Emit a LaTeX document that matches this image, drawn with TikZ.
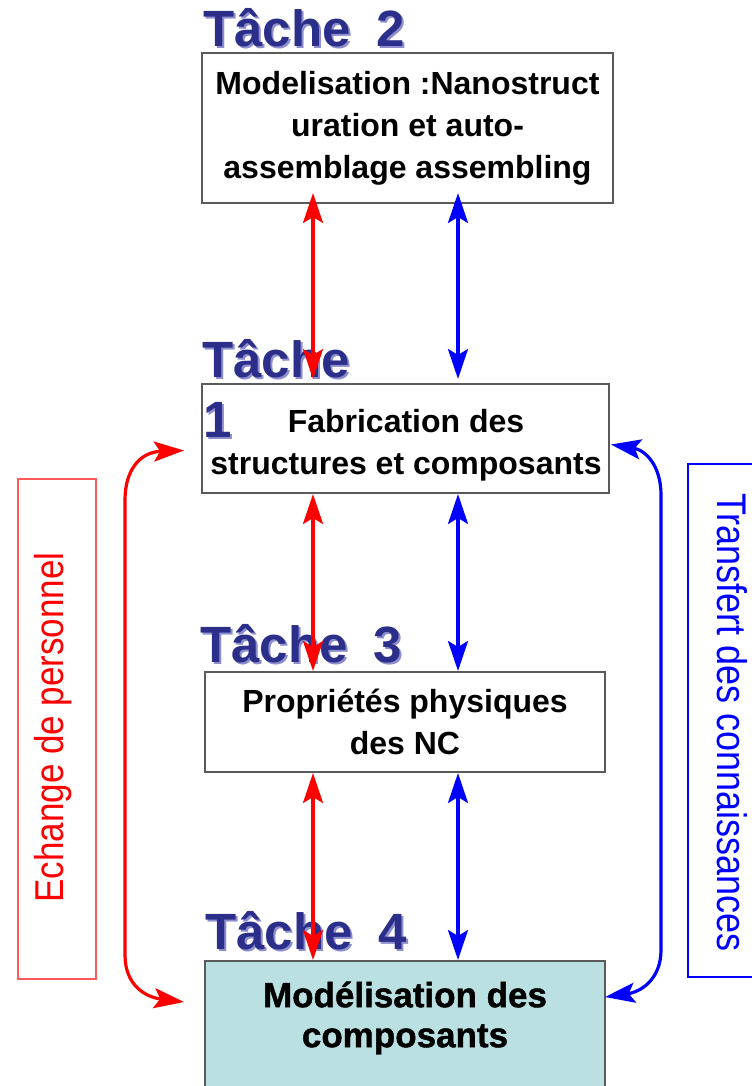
\documentclass[tikz,border=0pt]{standalone}
\usepackage{fontspec}
\setmainfont{Liberation Sans}
\newfontfamily\heavyfont[FakeBold=1.2]{Liberation Sans Bold}
\usetikzlibrary{arrows.meta}
\definecolor{tachecol}{RGB}{44,47,138}
\definecolor{tacheshade}{RGB}{140,142,205}
\definecolor{boxline}{RGB}{90,90,90}
\definecolor{boxfill}{RGB}{186,224,226}
\definecolor{echline}{RGB}{255,90,90}
\newcommand{\shadowed}[1]{\makebox[0pt][l]{\hspace{1pt}\raisebox{-1pt}{\textcolor{tacheshade}{#1}}}#1}

\begin{document}
\begin{tikzpicture}[x=0.5pt, y=-0.5pt,
  tache/.style={anchor=base west, inner sep=0pt, text=tachecol,
    font=\fontsize{25.5}{30}\selectfont\bfseries},
  taskbox/.style={draw=boxline, line width=1pt, fill=white, align=center, inner sep=0pt,
    font=\fontsize{16}{21}\selectfont\bfseries},
  tasktext/.style={align=center, inner sep=0pt, font=\fontsize{16}{21}\selectfont\bfseries},
  link/.style={<->, line width=1.6pt, >={Stealth[length=15pt,width=10pt,inset=3pt]}},
  sidetext/.style={inner sep=0pt, xscale=1.15, font=\fontsize{17.5}{20}\selectfont}]
\useasboundingbox (0,0) rectangle (751,1086);

\node[taskbox, minimum width=205.5pt, minimum height=75pt] (t2) at (407.5,128)
  {Modelisation :Nanostruct\\uration et auto-\\assemblage assembling};
\node[taskbox, minimum width=203.5pt, minimum height=54.5pt] (t1) at (405.5,438.5) {};
\node[tasktext] (t1text) at (406,445) {Fabrication des\\structures et composants};
\node[taskbox, minimum width=200pt, minimum height=50pt] (t3) at (405,722)
  {Propriétés physiques\\des NC};
\node[taskbox, fill=boxfill, minimum width=200pt, minimum height=75pt, anchor=north] (t4) at (405,960) {};
\node[align=center, inner sep=0pt, font=\fontsize{17.5}{20}\heavyfont] (t4text) at (405,1018)
  {Modélisation des\\composants};

\node[tache] (h2) at (203,47) {\shadowed{Tâche\enspace 2}};
\node[tache] (h1) at (202,377) {\shadowed{Tâche}};
\node[tache] (h1num) at (203,437) {\shadowed{1}};
\node[tache] (h3) at (200,662) {\shadowed{Tâche\enspace 3}};
\node[tache] (h4) at (205,949) {\shadowed{Tâche\enspace 4}};

\coordinate (rx) at (313,0);
\coordinate (bx) at (458,0);
\draw[link, red, shorten <=-5.5pt, shorten >=2pt] (t2.south -| rx) -- (t1.north -| rx);
\draw[link, blue, shorten <=-5.5pt, shorten >=2pt] (t2.south -| bx) -- (t1.north -| bx);
\draw[link, red] (t1.south -| rx) -- (t3.north -| rx);
\draw[link, blue] (t1.south -| bx) -- (t3.north -| bx);
\draw[link, red] (t3.south -| rx) -- (t4.north -| rx);
\draw[link, blue] (t3.south -| bx) -- (t4.north -| bx);

\coordinate (lt) at ([shift={(-17,12)}]t1.west);
\coordinate (lb) at ([shift={(-20,42)}]t4.north west);
\coordinate (rt) at ([shift={(1,6)}]t1.east);
\coordinate (rb) at ([shift={(-1,37)}]t4.north east);
\draw[link, red] (lt) .. controls (140,452) and (125,470) .. (125,500) -- (125,955)
  .. controls (125,985) and (145,997) .. (lb);
\draw[link, blue] (rt) .. controls (645,450) and (661,465) .. (661,495) -- (661,950)
  .. controls (661,980) and (640,992) .. (rb);

\draw[echline, line width=1pt] (18,479) rectangle (96,979);
\node[sidetext, rotate=90, text=red] (echange) at (53.5,727.5) {Echange de personnel};
\draw[blue, line width=1pt] (688,464) rectangle (780,977);
\node[sidetext, rotate=-90, text=blue, font=\fontsize{18}{20}\selectfont] (transfert) at (732.5,722.5)
  {Transfert des connaissances};
\end{tikzpicture}
\end{document}
